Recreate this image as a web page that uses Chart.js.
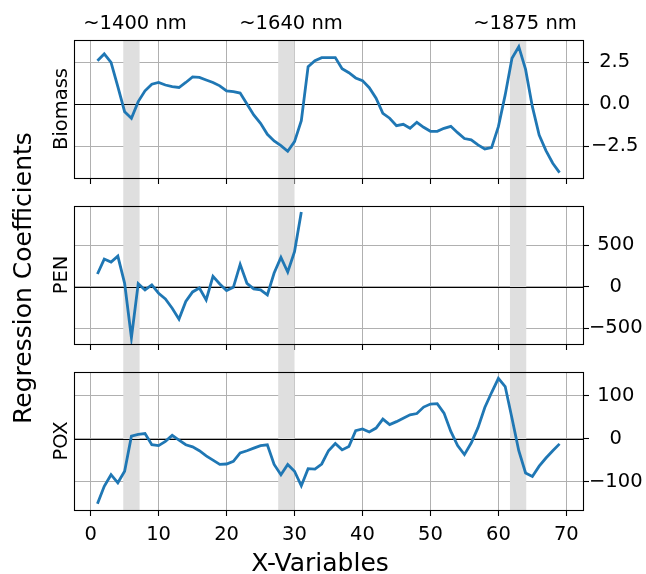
<!DOCTYPE html>
<html>
<head>
<meta charset="utf-8">
<script src="https://cdn.jsdelivr.net/npm/chart.js@4.4.0/dist/chart.umd.min.js"></script>
<style>
  body { margin: 0; background: #fff; }
  #wrap { position: relative; width: 646px; height: 574px; font-family: "DejaVu Sans", sans-serif; color: #000; }
  canvas { position: absolute; left: 0; }
  .lbl { position: absolute; white-space: nowrap; font-size: 19.5px; line-height: 1; transform: translate(-50%, -50%); }
  .rot { transform: translate(-50%, -50%) rotate(-90deg); }
  .big { font-size: 25px; }
</style>
</head>
<body>
<div id="wrap">
  <canvas id="biomassChart" width="646" height="190" style="top:0px"></canvas>
  <canvas id="penChart" width="646" height="166" style="top:190px"></canvas>
  <canvas id="poxChart" width="646" height="218" style="top:356px"></canvas>

  <div class="lbl" style="left:135px; top:23px">~1400 nm</div>
  <div class="lbl" style="left:291px; top:23px">~1640 nm</div>
  <div class="lbl" style="left:525px; top:23px">~1875 nm</div>

  <div class="lbl rot" style="left:61px; top:109px">Biomass</div>
  <div class="lbl rot" style="left:61px; top:275px">PEN</div>
  <div class="lbl rot" style="left:61px; top:441px">POX</div>

  <div class="lbl rot big" style="left:22px; top:278px">Regression Coefficients</div>
  <div class="lbl big" style="left:320px; top:562px">X-Variables</div>
</div>

<script>
// x positions (variable index)
const xVariables = [1, 2, 3, 4, 5, 6, 7, 8, 9, 10, 11, 12, 13, 14, 15, 16, 17, 18, 19, 20,
    21, 22, 23, 24, 25, 26, 27, 28, 29, 30, 31, 32, 33, 34, 35, 36, 37, 38, 39, 40,
    41, 42, 43, 44, 45, 46, 47, 48, 49, 50, 51, 52, 53, 54, 55, 56, 57, 58, 59, 60,
    61, 62, 63, 64, 65, 66, 67, 68, 69];

const biomassCoefs = [2.6, 3.0, 2.5, 1.05, -0.44, -0.83, 0.16, 0.8, 1.2, 1.3,
    1.15, 1.05, 1.0, 1.3, 1.63, 1.6, 1.45, 1.3, 1.1, 0.8,
    0.75, 0.67, 0.02, -0.63, -1.13, -1.79, -2.18, -2.46, -2.8, -2.22,
    -0.97, 2.24, 2.6, 2.78, 2.78, 2.78, 2.12, 1.88, 1.57, 1.41,
    0.99, 0.36, -0.54, -0.83, -1.27, -1.19, -1.43, -1.07, -1.37, -1.61,
    -1.61, -1.43, -1.31, -1.69, -2.04, -2.12, -2.42, -2.66, -2.58, -1.33,
    0.56, 2.74, 3.43, 2.08, -0.14, -1.83, -2.76, -3.51, -4.07];

const penCoefs = [152, 332, 296, 368, 40, -616, 36, -40, 20, -80,
    -148, -260, -392, -180, -64, -16, -160, 124, 32, -48,
    -8, 268, 40, -28, -40, -100, 164, 352, 176, 420,
    900];

const poxCoefs = [-152, -111, -84, -103, -76, 6, 10, 12, -14, -16,
    -6, 8, -3, -14, -19, -28, -40, -50, -60, -59,
    -53, -33, -28, -22, -16, -14, -60, -84, -60, -76,
    -110, -70, -71, -59, -28, -11, -26, -18, 19, 23,
    16, 25, 46, 33, 40, 48, 56, 59, 74, 81,
    82, 60, 17, -16, -37, -10, 26, 73, 108, 141,
    122, 48, -28, -80, -88, -64, -45, -28, -12];

// tick values
const xTicks = [0, 10, 20, 30, 40, 50, 60, 70];
const biomassTicks = [-2.5, 0, 2.5];
const penTicks = [-500, 0, 500];
const poxTicks = [-100, 0, 100];

// highlighted wavelength regions (x-variable ranges)
const bandStarts = [4.8, 27.6, 61.7];
const bandEnds = [7.2, 30.0, 64.1];

Chart.defaults.font.family = 'DejaVu Sans';
Chart.defaults.font.size = 19.5;
Chart.defaults.color = '#000';

const minus = s => s.replace('-', '\u2212');
const asTicks = list => list.map(v => ({ value: v }));

// gray spans, zero line and axes frame
const decorPlugin = {
    id: 'decor',
    beforeDatasetsDraw(chart, args, opts) {
        const ctx = chart.ctx;
        const area = chart.chartArea;
        const xs = chart.scales.x;
        const ys = chart.scales.y;
        const top = opts.first ? area.top : 0;
        const bottom = opts.last ? area.bottom : chart.height;
        ctx.save();
        ctx.fillStyle = '#dfdfdf';
        bandStarts.forEach((s, i) => {
            const x0 = xs.getPixelForValue(s);
            const x1 = xs.getPixelForValue(bandEnds[i]);
            ctx.fillRect(x0, top, x1 - x0, bottom - top);
        });
        const y0 = Math.round(ys.getPixelForValue(0)) + 0.5;
        ctx.strokeStyle = '#000';
        ctx.lineWidth = 1.1;
        ctx.beginPath();
        ctx.moveTo(area.left, y0);
        ctx.lineTo(area.right, y0);
        ctx.stroke();
        ctx.restore();
    },
    afterDatasetsDraw(chart) {
        const ctx = chart.ctx;
        const a = chart.chartArea;
        ctx.save();
        ctx.strokeStyle = '#000';
        ctx.lineWidth = 1.1;
        ctx.strokeRect(Math.round(a.left) + 0.5, Math.round(a.top) + 0.5,
            Math.round(a.right - a.left), Math.round(a.bottom - a.top));
        ctx.restore();
    }
};

function makeChart(id, values, yMin, yMax, yTicks, fmt, place) {
    const points = values.map((v, i) => ({ x: xVariables[i], y: v }));
    return new Chart(document.getElementById(id), {
        type: 'line',
        data: {
            datasets: [{
                data: points,
                borderColor: '#1f77b4',
                borderWidth: 2.8,
                pointRadius: 0,
                tension: 0,
                fill: false
            }]
        },
        options: {
            responsive: false,
            animation: false,
            devicePixelRatio: 1,
            layout: { padding: { top: place.top, left: 74, right: 0, bottom: 0 } },
            plugins: {
                legend: { display: false },
                tooltip: { enabled: false },
                decor: { first: place.first, last: place.last }
            },
            scales: {
                x: {
                    type: 'linear',
                    min: -2.45,
                    max: 72.45,
                    afterBuildTicks: s => { s.ticks = asTicks(xTicks); },
                    ticks: { display: place.last, padding: 7, maxRotation: 0, autoSkip: false },
                    grid: { color: '#b0b0b0', lineWidth: 1, tickColor: '#000', tickLength: 6, tickWidth: 1.1 },
                    border: { display: false },
                    afterFit: s => { s.height = place.xHeight; s.paddingLeft = 0; s.paddingRight = 0; }
                },
                y: {
                    position: 'right',
                    min: yMin,
                    max: yMax,
                    afterBuildTicks: s => { s.ticks = asTicks(yTicks); },
                    ticks: { padding: place.labelPad, crossAlign: 'center', autoSkip: false, callback: fmt },
                    grid: { color: '#b0b0b0', lineWidth: 1, tickColor: '#000', tickLength: 6, tickWidth: 1.1 },
                    border: { display: false },
                    afterFit: s => { s.width = 63; s.paddingTop = 0; s.paddingBottom = 0; }
                }
            }
        },
        plugins: [decorPlugin]
    });
}

makeChart('biomassChart', biomassCoefs, -4.39, 3.83, biomassTicks,
    v => minus(v.toFixed(1)), { top: 40, xHeight: 12, first: true, last: false, labelPad: 2 });
makeChart('penChart', penCoefs, -692, 972, penTicks,
    v => minus(String(v)), { top: 16, xHeight: 12, first: false, last: false, labelPad: 0 });
makeChart('poxChart', poxCoefs, -166.5, 156, poxTicks,
    v => minus(String(v)), { top: 16, xHeight: 64, first: false, last: true, labelPad: 0 });
</script>
</body>
</html>
